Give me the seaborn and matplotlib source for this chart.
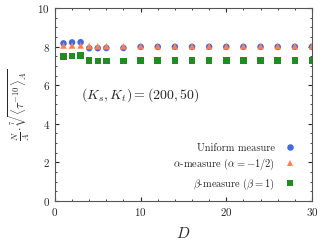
import matplotlib
matplotlib.use("Agg")
import matplotlib.pyplot as plt
import pandas as pd
import seaborn as sns
from matplotlib.ticker import AutoMinorLocator

# values
d_vals = [1, 2, 3, 4, 5, 6, 8, 10, 12, 14, 16, 18, 20, 22, 24, 26, 28, 30]
uniform = [8.17, 8.22, 8.23, 7.92, 7.92, 7.93, 7.93, 7.99, 7.99, 7.99, 7.99, 7.99, 7.99, 7.99, 7.99, 7.99, 7.99, 7.99]
alpha = [8.06, 8.06, 8.06, 8.03, 8.02, 8.02, 8.02, 8.02, 8.02, 8.02, 8.02, 8.02, 8.02, 8.02, 8.02, 8.02, 8.02, 8.02]
beta = [7.50, 7.52, 7.55, 7.27, 7.26, 7.26, 7.25, 7.29, 7.29, 7.29, 7.29, 7.29, 7.29, 7.29, 7.29, 7.29, 7.29, 7.29]

labels = ["Uniform measure", r"$\alpha$-measure $(\alpha = -1/2)$", r"$\beta$-measure $(\beta = 1)$"]
colors = ["#4169E1", "#FF7F50", "#228B22"]
markers = ["o", "^", "s"]

df = pd.DataFrame({
    "D": d_vals * 3,
    "val": uniform + alpha + beta,
    "measure": [labels[0]] * len(d_vals) + [labels[1]] * len(d_vals) + [labels[2]] * len(d_vals),
})

sns.set_style("ticks")
plt.rcParams["font.family"] = "serif"
plt.rcParams["font.serif"] = ["cmr10", "DejaVu Serif"]
plt.rcParams["mathtext.fontset"] = "cm"
plt.rcParams["axes.formatter.use_mathtext"] = True

fig = plt.figure(figsize=(3.27, 2.45), dpi=100)
ax = fig.add_axes([0.168, 0.18, 0.786, 0.787])

sns.scatterplot(data=df, x="D", y="val", hue="measure", style="measure",
                palette=dict(zip(labels, colors)), markers=dict(zip(labels, markers)),
                s=22, linewidth=0, ax=ax)

ax.set_xlim(0, 30)
ax.set_ylim(0, 10)
ax.set_xticks([0, 10, 20, 30])
ax.set_yticks([0, 2, 4, 6, 8, 10])
ax.xaxis.set_minor_locator(AutoMinorLocator(5))
ax.yaxis.set_minor_locator(AutoMinorLocator(4))
ax.tick_params(which="both", direction="in", top=True, right=True, labelsize=8)
ax.tick_params(which="major", length=3)
ax.tick_params(which="minor", length=1.5)
for sp in ax.spines.values():
    sp.set_color("#555555")

ax.set_xlabel(r"$D$", fontsize=11, labelpad=6)
ax.set_ylabel(r"$\frac{N}{A}\cdot\sqrt[7]{\langle\tau^{-10}\rangle_A}$", fontsize=9)

ax.text(3.0, 5.0, r"$(K_s, K_t) = (200, 50)$", fontsize=10, va="bottom")

ax.legend(loc="lower right", frameon=False, markerfirst=False, fontsize=7.5,
          handletextpad=0.4, labelspacing=0.4,
          bbox_to_anchor=(0.99, 0.0))

fig.savefig("out.png", dpi=100)
